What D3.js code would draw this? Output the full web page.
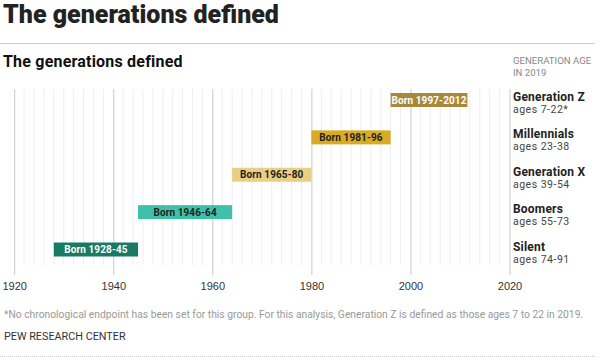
<!DOCTYPE html>
<html>
<head>
<meta charset="utf-8">
<script src="https://cdn.jsdelivr.net/npm/d3@7"></script>
<style>
    body { margin: 0; background: #fff; }
    svg { font-family: Roboto, "Liberation Sans", sans-serif; }
    .axis .domain { display: none; }
    .axis line { stroke: #c8c8c8; }
    .axis text { fill: #333; font-size: 11px; }
</style>
</head>
<body>
<svg width="600" height="363"></svg>
<script>
// generations, top to bottom
var names = ['Generation Z', 'Millennials', 'Generation X', 'Boomers', 'Silent'];
var ages = ['ages 7-22*', 'ages 23-38', 'ages 39-54', 'ages 55-73', 'ages 74-91'];
var bornLabels = ['Born 1997-2012', 'Born 1981-96', 'Born 1965-80', 'Born 1946-64', 'Born 1928-45'];
// bar extents as drawn
var barStart = [1996, 1980, 1964, 1945, 1928];
var barEnd = [2011.5, 1996, 1980, 1964, 1945];
var colors = ['#a8893a', '#d8ab22', '#e7cf84', '#40bfa9', '#187a65'];
var textColors = ['#fff', '#222', '#222', '#222', '#fff'];
var majorTicks = [1920, 1940, 1960, 1980, 2000, 2020];

var rows = names.map((n, i) => ({
    name: n, age: ages[i], label: bornLabels[i],
    start: barStart[i], end: barEnd[i],
    color: colors[i], textColor: textColors[i]
}));

var svg = d3.select('svg');

var xScale = d3.scaleLinear()
    .domain([1920, 2020])
    .range([14.2, 509.5]);

var yScale = d3.scalePoint()
    .domain(names)
    .range([100, 249.5]);

var gridTop = 89, minorBottom = 265, axisY = 275;

//big title
svg.append('text')
    .attr('x', 3).attr('y', 23)
    .style('font-size', '25px').style('font-weight', 900).style('fill', '#222')
    .text('The generations defined');

svg.append('line')
    .attr('x1', 0).attr('x2', 595).attr('y1', 43.5).attr('y2', 43.5)
    .style('stroke', '#ccc');

//chart title
svg.append('text')
    .attr('x', 3).attr('y', 67)
    .style('font-size', '16px').style('font-weight', 700).style('fill', '#111')
    .style('letter-spacing', '0.2px')
    .text('The generations defined');

//right header
svg.append('text')
    .attr('x', 513).attr('y', 64)
    .style('font-size', '9.6px').style('fill', '#888')
    .text('GENERATION AGE');
svg.append('text')
    .attr('x', 513).attr('y', 76)
    .style('font-size', '9.6px').style('fill', '#888')
    .text('IN 2019');

//minor gridlines every 2 years
var minorYears = d3.range(1922, 2020, 2).filter(d => d % 20 !== 0);
svg.selectAll('.minor')
    .data(minorYears)
    .enter()
    .append('line')
    .attr('class', 'minor')
    .attr('x1', d => xScale(d)).attr('x2', d => xScale(d))
    .attr('y1', gridTop).attr('y2', minorBottom)
    .style('stroke', '#eeeeee');

//major gridlines + axis labels
var xAxis = d3.axisBottom(xScale)
    .tickValues(majorTicks)
    .tickFormat(d3.format('d'))
    .tickSize(-(axisY - gridTop))
    .tickPadding(7);

svg.append('g')
    .attr('class', 'x axis')
    .attr('transform', 'translate(0,' + axisY + ')')
    .call(xAxis);

//bars
var bar = svg.selectAll('.bar')
    .data(rows)
    .enter()
    .append('g')
    .attr('class', 'bar');

bar.append('rect')
    .attr('x', d => xScale(d.start))
    .attr('y', d => yScale(d.name) - 7)
    .attr('width', d => xScale(d.end) - xScale(d.start))
    .attr('height', 14)
    .style('fill', d => d.color);

bar.append('text')
    .attr('x', d => (xScale(d.start) + xScale(d.end)) / 2)
    .attr('y', d => yScale(d.name) + 3.7)
    .attr('text-anchor', 'middle')
    .style('font-size', '10px').style('font-weight', 700)
    .style('letter-spacing', '0.1px')
    .style('fill', d => d.textColor)
    .text(d => d.label);

//right labels
bar.append('text')
    .attr('x', 513)
    .attr('y', d => yScale(d.name) + 1)
    .style('font-size', '12px').style('font-weight', 700).style('fill', '#222')
    .style('letter-spacing', '0.2px')
    .text(d => d.name);

bar.append('text')
    .attr('x', 513)
    .attr('y', d => yScale(d.name) + 13)
    .style('font-size', '10.5px').style('fill', '#444')
    .style('letter-spacing', '0.5px')
    .text(d => d.age);

//footnote
svg.append('text')
    .attr('x', 4).attr('y', 318)
    .style('font-size', '10.3px').style('fill', '#999')
    .text('*No chronological endpoint has been set for this group. For this analysis, Generation Z is defined as those ages 7 to 22 in 2019.');

svg.append('text')
    .attr('x', 4).attr('y', 340)
    .style('font-size', '10.8px').style('fill', '#333')
    .text('PEW RESEARCH CENTER');

svg.append('line')
    .attr('x1', 0).attr('x2', 595).attr('y1', 356.5).attr('y2', 356.5)
    .style('stroke', '#ccc').style('stroke-dasharray', '1,1');
</script>
</body>
</html>
